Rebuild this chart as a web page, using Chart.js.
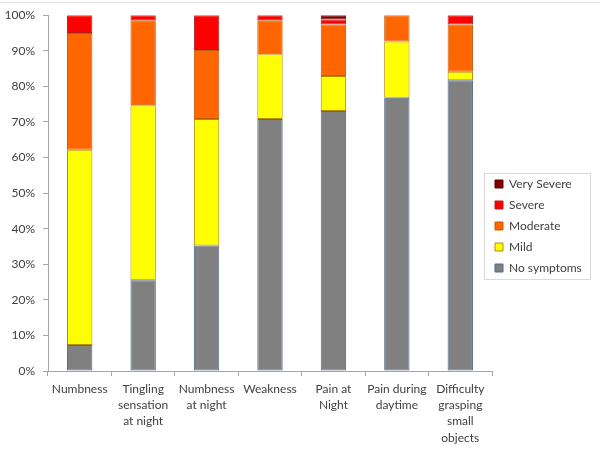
<!DOCTYPE html>
<html>
<head>
<meta charset="utf-8">
<script src="https://cdn.jsdelivr.net/npm/chart.js@4/dist/chart.umd.min.js"></script>
<style>
html,body{margin:0;padding:0;background:#fff;}
#wrap{width:600px;height:450px;position:relative;}
</style>
</head>
<body>
<div id="wrap"><canvas id="c" width="600" height="450"></canvas></div>
<script>
const categories = [
  "Numbness",
  ["Tingling", "sensation", "at night"],
  ["Numbness", "at night"],
  "Weakness",
  ["Pain at", "Night"],
  ["Pain during", "daytime"],
  ["Difficulty", "grasping", "small", "objects"]
];
const noSymptoms = [7.3, 25.5, 35.3, 70.8, 73.1, 76.8, 81.7];
const mild       = [54.9, 49.2, 35.5, 18.2, 9.8, 15.8, 2.4];
const moderate   = [32.8, 23.9, 19.4, 9.6, 14.5, 7.4, 13.3];
const severe     = [5.0, 1.4, 9.8, 1.4, 1.4, 0, 2.6];
const verySevere = [0, 0, 0, 0, 1.2, 0, 0];
const yTicks = [0, 10, 20, 30, 40, 50, 60, 70, 80, 90, 100];

const FONT = "Lato";
const TXT = "#404040";
const AX = "#a6a6a6";

const legendBox = {
  id: "legendBox",
  afterLayout(chart) {
    const l = chart.legend;
    if (l) { l.left -= 6; l.right -= 6; l.top -= 6; l.bottom -= 6; }
  },
  afterDraw(chart) {
    const hb = chart.legend && chart.legend.legendHitBoxes;
    if (!hb || !hb.length) return;
    const ctx = chart.ctx;
    const first = hb[0], last = hb[hb.length - 1];
    const left = Math.round(first.left - 11);
    const top = Math.round(first.top - 5);
    const bottom = Math.round(last.top + 17);
    ctx.save();
    ctx.strokeStyle = "#d9d9d9";
    ctx.lineWidth = 1;
    ctx.strokeRect(left + 0.5, top + 0.5, 106, bottom - top);
    ctx.strokeStyle = "#e3e3e3";
    ctx.beginPath();
    ctx.moveTo(0, 2.5); ctx.lineTo(600, 2.5);
    ctx.stroke();
    ctx.restore();
  }
};

const mk = (label, data, bg, bc) => ({
  label, data, backgroundColor: bg, borderColor: bc, borderWidth: 1,
  borderSkipped: false, categoryPercentage: 1, barPercentage: 0.4
});

new Chart(document.getElementById("c"), {
  type: "bar",
  data: {
    labels: categories,
    datasets: [
      mk("No symptoms", noSymptoms, "#808080", "#4f6a8c"),
      mk("Mild", mild, "#ffff00", "#b88a00"),
      mk("Moderate", moderate, "#ff6600", "#c05a10"),
      mk("Severe", severe, "#ff0000", "#b02020"),
      mk("Very Severe", verySevere, "#800000", "#600000")
    ]
  },
  options: {
    responsive: false,
    animation: false,
    layout: { padding: { top: 14, left: 0, right: 0, bottom: 0 } },
    plugins: {
      tooltip: { enabled: false },
      legend: {
        position: "right",
        align: "center",
        reverse: true,
        labels: {
          boxWidth: 8, boxHeight: 8, padding: 9,
          color: TXT, font: { family: FONT, size: 12 }
        }
      }
    },
    scales: {
      x: {
        stacked: true,
        afterFit(s) { s.height = 79; },
        grid: { offset: true, drawOnChartArea: false, drawTicks: true, tickLength: 5, color: AX },
        border: { color: AX },
        ticks: {
          color: TXT, font: { family: FONT, size: 12, lineHeight: 1.35 },
          maxRotation: 0, autoSkip: false, padding: 5
        }
      },
      y: {
        stacked: true,
        min: 0, max: 100,
        afterFit(s) { s.width = 48; },
        afterBuildTicks(s) { s.ticks = yTicks.map(v => ({ value: v })); },
        grid: { drawOnChartArea: false, drawTicks: true, tickLength: 5, color: AX },
        border: { color: AX },
        ticks: {
          color: TXT, font: { family: FONT, size: 12 }, padding: 8,
          callback: v => v + "%"
        }
      }
    }
  },
  plugins: [legendBox, {
    id: "legendWidth",
    afterInit(chart) {
      const l = chart.legend;
      if (!l) return;
      const f = l.fit.bind(l);
      l.fit = function () { f(); this.width = 108; };
    }
  }]
});
</script>
</body>
</html>
